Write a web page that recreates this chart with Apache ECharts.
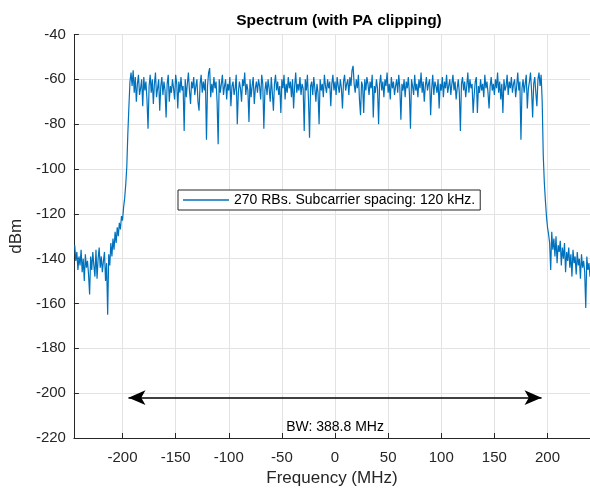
<!DOCTYPE html>
<html>
<head>
<meta charset="utf-8">
<style>
  html, body { margin: 0; padding: 0; background: #ffffff; }
  #chart { width: 590px; height: 492px; }
</style>
<script src="https://cdn.jsdelivr.net/npm/echarts@6/dist/echarts.min.js"></script>
</head>
<body>
<div id="chart"></div>
<script>
// Carrier configuration
const numRB = 270;
const scsKHz = 120;
const sampleRateMHz = 491.52;
const bwMHz = 388.8;

// Visible frequency window (MHz)
const freqMinMHz = -sampleRateMHz / 2;
const freqMaxMHz = 240;

// Frequency grid of the spectrum estimate (MHz)
const freqStartMHz = -245;
const freqStepMHz = 1;

// Power levels (dBm), lower skirt: -245 ... -199 MHz
const lowerSkirt = [
  -134, -141, -137, -145, -139, -143, -136, -146, -140, -150,
  -138, -144, -141, -147, -156, -139, -145, -137, -143, -148,
  -136, -149, -140, -135, -144, -139, -146, -141, -137, -150,
  -142, -165, -138, -143, -133, -139, -131, -136, -128, -133,
  -126, -130, -124, -127, -121, -123, -117
];

// Lower band edge: -198 ... -194 MHz
const lowerEdge = [-113, -107, -99, -84, -72];

// Occupied band: -193 ... 194 MHz
const occupiedBand = [
  -61, -57, -63, -56, -66, -59, -70, -62, -58, -67,
  -64, -60, -72, -59, -65, -61, -69, -82, -63, -58,
  -66, -60, -71, -62, -57, -68, -64, -60, -74, -63,
  -59, -67, -61, -65, -77, -62, -58, -70, -63, -66,
  -60, -64, -69, -58, -62, -73, -61, -66, -59, -65,
  -63, -83, -60, -68, -62, -57, -65, -71, -61, -64,
  -59, -67, -63, -60, -70, -74, -62, -58, -66, -61,
  -65, -60, -87, -63, -57, -55, -68, -62, -66, -59,
  -64, -61, -70, -89, -60, -66, -62, -58, -67, -63,
  -60, -69, -62, -65, -59, -72, -63, -61, -67, -64,
  -58, -80, -66, -61, -64, -70, -60, -63, -57, -67,
  -62, -65, -79, -60, -68, -63, -59, -71, -64, -61,
  -66, -60, -63, -69, -58, -62, -82, -65, -61, -67,
  -60, -64, -70, -59, -66, -74, -62, -58, -65, -61,
  -67, -63, -75, -60, -64, -58, -69, -62, -66, -59,
  -64, -61, -68, -60, -73, -63, -57, -66, -62, -65,
  -59, -67, -62, -64, -83, -60, -65, -58, -69, -86,
  -63, -61, -67, -59, -64, -70, -62, -66, -80, -60,
  -65, -62, -68, -58, -63, -66, -60, -64, -61, -72,
  -62, -58, -65, -61, -67, -59, -63, -66, -60, -64,
  -73, -61, -58, -65, -62, -60, -67, -59, -63, -56,
  -54, -62, -66, -60, -64, -58, -69, -76, -61, -63,
  -75, -60, -65, -59, -62, -67, -61, -64, -58, -77,
  -63, -66, -60, -64, -80, -62, -58, -65, -61, -68,
  -60, -63, -57, -66, -62, -69, -59, -64, -61, -67,
  -63, -60, -66, -58, -64, -78, -62, -65, -60, -68,
  -61, -64, -59, -66, -82, -60, -63, -67, -58, -65,
  -62, -68, -60, -64, -57, -66, -61, -70, -63, -59,
  -65, -62, -60, -76, -64, -58, -67, -61, -63, -66,
  -60, -73, -62, -65, -59, -68, -61, -64, -58, -66,
  -63, -60, -67, -62, -58, -65, -61, -69, -64, -60,
  -66, -83, -62, -59, -65, -61, -68, -63, -57, -66,
  -60, -64, -62, -75, -67, -61, -59, -75, -63, -66,
  -60, -65, -62, -68, -58, -64, -61, -66, -73, -63,
  -59, -65, -62, -67, -60, -64, -57, -66, -61, -69,
  -62, -75, -60, -65, -63, -58, -67, -61, -64, -59,
  -66, -62, -60, -68, -63, -57, -65, -61, -87, -64,
  -60, -66, -62, -58, -73, -64, -61, -57, -65, -77,
  -62, -59, -66, -72, -60, -57, -63, -58
];

// Upper band edge: 195 ... 200 MHz
const upperEdge = [-70, -94, -106, -114, -121, -126];

// Upper skirt: 201 ... 245 MHz
const upperSkirt = [
  -129, -133, -145, -128, -136, -131, -139, -130, -142, -134,
  -137, -132, -143, -135, -140, -133, -146, -137, -141, -135,
  -144, -138, -148, -136, -142, -139, -147, -137, -143, -140,
  -149, -138, -144, -141, -146, -162, -139, -145, -142, -148,
  -140, -146, -143, -150, -141
];

// Axis settings
const yTicks = [-220, -200, -180, -160, -140, -120, -100, -80, -60, -40];

const levels = [].concat(lowerSkirt, lowerEdge, occupiedBand, upperEdge, upperSkirt);
const spectrum = levels.map((v, i) => [freqStartMHz + i * freqStepMHz, v]);

const seriesName = numRB + ' RBs. Subcarrier spacing: ' + scsKHz + ' kHz.';
const bwLabel = 'BW: ' + bwMHz.toFixed(1) + ' MHz';
const arrowLevel = -202;
const bwTextLevel = -215;

const fontFamily = '"Liberation Sans", Arial, Helvetica, sans-serif';
const axisColor = '#262626';
const gridColor = '#e3e3e3';
const lineColor = '#0072BD';

const chart = echarts.init(document.getElementById('chart'), null, { renderer: 'canvas' });

chart.setOption({
  animation: false,
  backgroundColor: '#ffffff',
  textStyle: { fontFamily: fontFamily },
  title: {
    text: 'Spectrum (with PA clipping)',
    left: 334,
    textAlign: 'center',
    top: 8,
    textStyle: { fontFamily: fontFamily, fontSize: 15.5, fontWeight: 'bold', color: '#000000' }
  },
  grid: { left: 72.5, top: 34.5, right: 0, bottom: 50, containLabel: false },
  legend: {
    data: [{ name: seriesName, icon: 'rect' }],
    left: 178,
    top: 190,
    orient: 'horizontal',
    backgroundColor: '#ffffff',
    borderColor: axisColor,
    borderWidth: 1,
    padding: [3, 5, 3, 5],
    itemWidth: 46,
    itemHeight: 1.5,
    selectedMode: false,
    itemStyle: { color: lineColor, borderWidth: 0 },
    lineStyle: { width: 0 },
    textStyle: { fontFamily: fontFamily, fontSize: 14, color: '#000000' }
  },
  xAxis: {
    type: 'value',
    min: freqMinMHz,
    max: freqMaxMHz,
    splitNumber: 10,
    name: 'Frequency (MHz)',
    nameLocation: 'middle',
    nameGap: 32,
    nameTextStyle: { fontFamily: fontFamily, fontSize: 17, color: axisColor },
    axisLine: { show: true, onZero: false, lineStyle: { color: axisColor, width: 1 } },
    axisTick: { show: true, inside: true, length: 5, lineStyle: { color: axisColor } },
    axisLabel: {
      show: true, margin: 12, fontSize: 15, color: axisColor, fontFamily: fontFamily,
      showMinLabel: false, showMaxLabel: false,
      formatter: v => String(Math.round(v))
    },
    splitLine: { show: true, lineStyle: { color: gridColor, width: 1 } }
  },
  yAxis: {
    type: 'value',
    min: yTicks[0],
    max: yTicks[yTicks.length - 1],
    interval: yTicks[1] - yTicks[0],
    name: 'dBm',
    nameLocation: 'middle',
    nameGap: 48,
    nameTextStyle: { fontFamily: fontFamily, fontSize: 17, color: axisColor },
    axisLine: { show: true, onZero: false, lineStyle: { color: axisColor, width: 1 } },
    axisTick: { show: true, inside: true, length: 5, lineStyle: { color: axisColor } },
    axisLabel: { show: true, margin: 8, fontSize: 15, color: axisColor, fontFamily: fontFamily },
    splitLine: { show: true, lineStyle: { color: gridColor, width: 1 } }
  },
  series: [
    {
      name: seriesName,
      type: 'line',
      data: spectrum,
      symbol: 'none',
      showSymbol: false,
      sampling: null,
      clip: true,
      lineStyle: { color: lineColor, width: 1.2 },
      itemStyle: { color: lineColor },
      z: 3
    },
    {
      name: 'bandwidth',
      type: 'line',
      data: [],
      silent: true,
      markLine: {
        silent: true,
        symbol: ['arrow', 'arrow'],
        symbolSize: [11, 17],
        lineStyle: { color: '#000000', width: 1.5, type: 'solid' },
        label: { show: false },
        data: [[
          { coord: [-bwMHz / 2, arrowLevel] },
          { coord: [bwMHz / 2, arrowLevel] }
        ]]
      },
      markPoint: {
        silent: true,
        symbol: 'circle',
        symbolSize: 0,
        label: {
          show: true,
          position: 'inside',
          formatter: bwLabel,
          fontFamily: fontFamily,
          fontSize: 14,
          color: '#000000'
        },
        data: [{ coord: [0, bwTextLevel] }]
      },
      z: 4
    }
  ]
});
</script>
</body>
</html>
